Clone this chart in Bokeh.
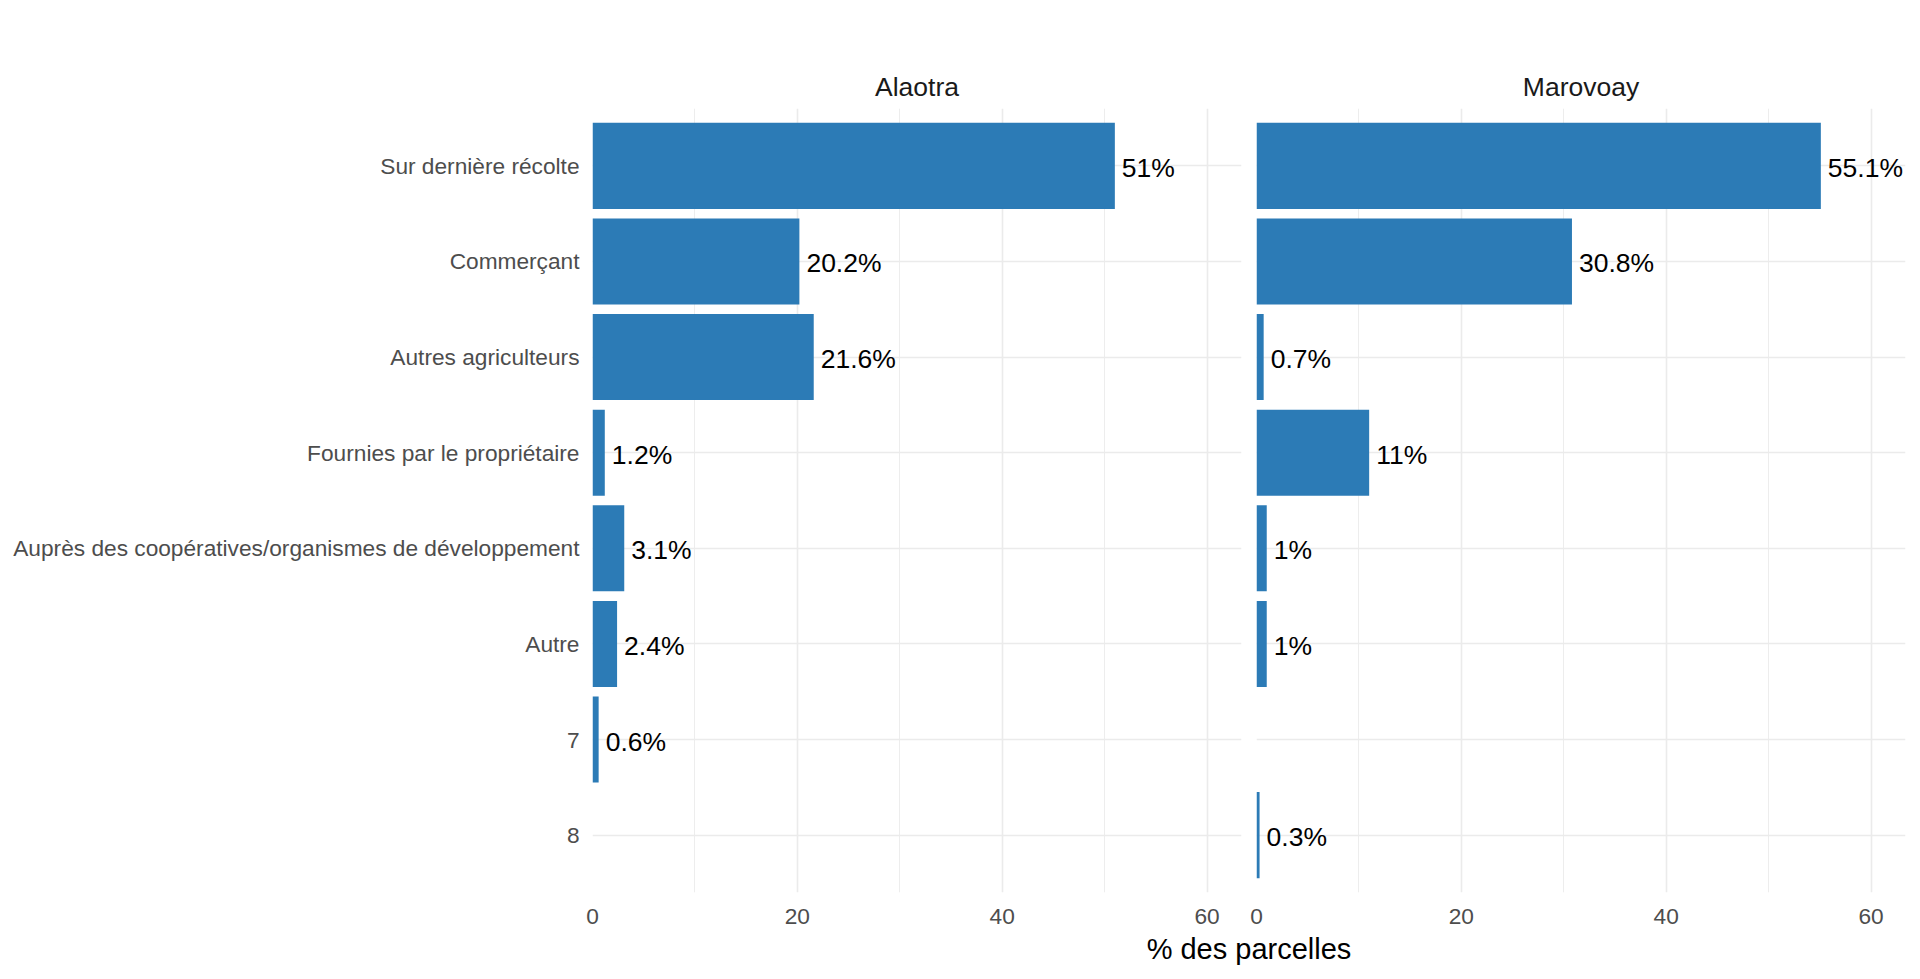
from bokeh.plotting import figure
from bokeh.models import Range1d, FactorRange, FixedTicker, Label, ColumnDataSource
from bokeh.layouts import row, column
from bokeh.embed import file_html
from bokeh.resources import INLINE
from bokeh.core.properties import value

categories = ["Sur dernière récolte", "Commerçant", "Autres agriculteurs",
              "Fournies par le propriétaire",
              "Auprès des coopératives/organismes de développement",
              "Autre", "7", "8"]

alaotra_cats = ["Sur dernière récolte", "Commerçant", "Autres agriculteurs",
                "Fournies par le propriétaire",
                "Auprès des coopératives/organismes de développement", "Autre", "7"]
alaotra_vals = [51.0, 20.2, 21.6, 1.2, 3.1, 2.4, 0.6]

marovoay_cats = ["Sur dernière récolte", "Commerçant", "Autres agriculteurs",
                 "Fournies par le propriétaire",
                 "Auprès des coopératives/organismes de développement", "Autre", "8"]
marovoay_vals = [55.1, 30.8, 0.7, 11.0, 1.0, 1.0, 0.3]

panels = ["Alaotra", "Marovoay"]
x_ticks = [0, 20, 40, 60]
x_minor = [10, 30, 50]
x_label = "% des parcelles"

FONT = "Liberation Sans"
BAR = "#2C7BB6"
GRID = "#EBEBEB"
XMAX = max(alaotra_vals + marovoay_vals) * 1.15


def fmt(v):
    return (f"{v:g}") + "%"


def make_panel(name, cats, vals, first):
    p = figure(
        output_backend="svg", toolbar_location=None,
        x_range=Range1d(0, XMAX),
        y_range=FactorRange(*list(reversed(categories)), range_padding=0.1,
                            range_padding_units="absolute"),
        frame_width=649, frame_height=784,
        min_border_top=108, min_border_bottom=36,
        min_border_left=592 if first else 8, min_border_right=7,
    )
    src = ColumnDataSource(dict(cat=cats, val=vals, lab=[fmt(v) for v in vals]))
    p.hbar(y="cat", right="val", left=0, height=0.9, source=src,
           fill_color=BAR, line_color=None)
    p.text(x="val", y="cat", text="lab", source=src, x_offset=7, y_offset=2,
           text_baseline="middle", text_align="left",
           text_font=value(FONT), text_font_size="26.5px", text_color="black")

    p.title.text = name
    p.title.align = "center"
    p.title.text_font = FONT
    p.title.text_font_size = "26.5px"
    p.title.text_font_style = "normal"
    p.title.text_color = "#1A1A1A"
    p.title.standoff = 14

    p.outline_line_color = None
    p.background_fill_color = "white"
    p.border_fill_color = "white"

    xa = p.xaxis[0]
    xa.ticker = FixedTicker(ticks=x_ticks, minor_ticks=x_minor)
    xa.axis_line_color = None
    xa.major_tick_line_color = None
    xa.minor_tick_line_color = None
    xa.major_tick_out = 0
    xa.major_tick_in = 0
    xa.major_label_standoff = 12
    xa.major_label_text_font = FONT
    xa.major_label_text_font_size = "22.7px"
    xa.major_label_text_color = "#4D4D4D"

    ya = p.yaxis[0]
    ya.axis_line_color = None
    ya.major_tick_line_color = None
    ya.major_tick_out = 0
    ya.major_tick_in = 0
    ya.major_label_standoff = 13
    ya.major_label_text_font = FONT
    ya.major_label_text_font_size = "22.7px"
    ya.major_label_text_color = "#4D4D4D"
    if not first:
        ya.visible = False

    p.xgrid.grid_line_color = GRID
    p.xgrid.grid_line_width = 1.6
    p.xgrid.minor_grid_line_color = GRID
    p.xgrid.minor_grid_line_width = 0.9
    p.ygrid.grid_line_color = GRID
    p.ygrid.grid_line_width = 1.6
    return p


p1 = make_panel(panels[0], alaotra_cats, alaotra_vals, True)
p2 = make_panel(panels[1], marovoay_cats, marovoay_vals, False)

p3 = figure(output_backend="svg", toolbar_location=None,
            x_range=Range1d(0, 1), y_range=Range1d(0, 1),
            frame_width=1313, frame_height=40,
            min_border_left=592, min_border_right=7,
            min_border_top=0, min_border_bottom=0)
p3.axis.visible = False
p3.grid.visible = False
p3.outline_line_color = None
p3.add_layout(Label(x=0.5, y=0.5, text=x_label, text_align="center",
                    text_baseline="middle", text_font=FONT,
                    text_font_size="29px", text_color="black"))

layout = column(row(p1, p2), p3)
open("out.html", "w").write(file_html(layout, INLINE))
